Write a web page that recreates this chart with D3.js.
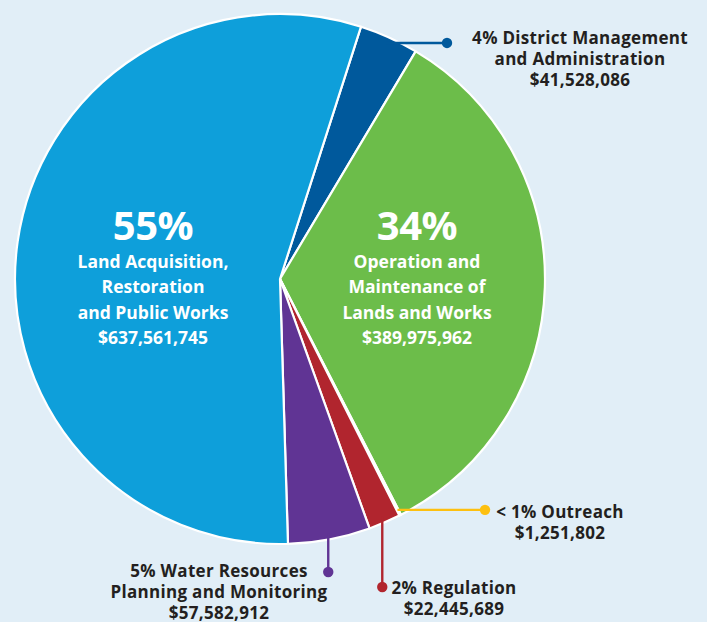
<!DOCTYPE html>
<html>
<head>
<meta charset="utf-8">
<script src="https://cdn.jsdelivr.net/npm/d3@7"></script>
<style>
  html, body { margin: 0; padding: 0; background: #E1EEF7; }
  svg { display: block; }
  text { font-family: "Open Sans", Lato, sans-serif; font-weight: 700; }
</style>
</head>
<body>
<svg id="chart" width="707" height="622"></svg>
<script>
// ---- data ----
const categories = [
  "District Management and Administration",
  "Operation and Maintenance of Lands and Works",
  "Outreach",
  "Regulation",
  "Water Resources Planning and Monitoring",
  "Land Acquisition, Restoration and Public Works"
];
const values = [41528086, 389975962, 1251802, 22445689, 57582912, 637561745];
const percentLabels = ["4%", "34%", "< 1%", "2%", "5%", "55%"];
const amountLabels = ["$41,528,086", "$389,975,962", "$1,251,802", "$22,445,689", "$57,582,912", "$637,561,745"];
const nameLines = [
  ["District Management", "and Administration"],
  ["Operation and", "Maintenance of", "Lands and Works"],
  ["Outreach"],
  ["Regulation"],
  ["Water Resources", "Planning and Monitoring"],
  ["Land Acquisition,", "Restoration", "and Public Works"]
];
const colors = ["#00599C", "#6CBD4A", "#FDC010", "#B1252E", "#603494", "#0E9FDA"];

// ---- layout ----
const W = 707, H = 622;
const cx = 280, cy = 279, R = 265;
const startDeg = 17.8;
const textDark = "#231F20";

const svg = d3.select("#chart");
svg.append("rect").attr("width", W).attr("height", H).attr("fill", "#E1EEF7");

const data = categories.map((c, i) => ({ name: c, value: values[i], i }));
const pie = d3.pie().sort(null).value(d => d.value)
  .startAngle(startDeg * Math.PI / 180)
  .endAngle(startDeg * Math.PI / 180 + 2 * Math.PI);
const arcs = pie(data);
const arc = d3.arc().innerRadius(0).outerRadius(R);

const g = svg.append("g").attr("transform", `translate(${cx},${cy})`);
g.selectAll("path.slice").data(arcs).join("path")
  .attr("class", "slice")
  .attr("d", arc)
  .attr("fill", d => colors[d.data.i])
  .attr("stroke", "#ffffff")
  .attr("stroke-width", 2.2)
  .attr("stroke-linejoin", "round");

function edgePoint(a, r) {
  const m = (a.startAngle + a.endAngle) / 2;
  return [cx + r * Math.sin(m), cy - r * Math.cos(m)];
}

// ---- inside labels ----
const inside = [
  { i: 5, x: 153, pctY: 240, y0: 268 },
  { i: 1, x: 417, pctY: 240, y0: 268 }
];
inside.forEach(L => {
  svg.append("text").attr("x", L.x).attr("y", L.pctY)
    .attr("text-anchor", "middle").attr("fill", "#fff")
    .attr("font-size", 40).attr("font-weight", 800).attr("letter-spacing", -0.5).text(percentLabels[L.i]);
  const lines = nameLines[L.i].concat([amountLabels[L.i]]);
  lines.forEach((t, k) => {
    svg.append("text").attr("x", L.x).attr("y", L.y0 + k * 25.3)
      .attr("text-anchor", "middle").attr("fill", "#fff")
      .attr("font-size", 17.5).text(t);
  });
});

// ---- outside callouts ----
const callouts = [
  { i: 0, dir: "h", end: 447, tx: 580, ty: 44, step: 21 },
  { i: 2, dir: "h", end: 485, tx: 560, ty: 518, step: 21 },
  { i: 3, dir: "v", end: 587, tx: 454, ty: 594, step: 21 },
  { i: 4, dir: "v", end: 572, tx: 219, ty: 577, step: 21.2 }
];
callouts.forEach(C => {
  const a = arcs[C.i];
  const [px, py] = edgePoint(a, R - 6);
  const col = colors[C.i];
  let ex, ey;
  if (C.dir === "h") { ex = C.end; ey = py; } else { ex = px; ey = C.end; }
  svg.append("line").attr("x1", px).attr("y1", py).attr("x2", ex).attr("y2", ey)
    .attr("stroke", col).attr("stroke-width", 2.4);
  svg.append("circle").attr("cx", ex).attr("cy", ey).attr("r", 5.2).attr("fill", col);
  const nl = nameLines[C.i];
  const lines = [percentLabels[C.i] + " " + nl[0]].concat(nl.slice(1)).concat([amountLabels[C.i]]);
  lines.forEach((t, k) => {
    svg.append("text").attr("x", C.tx).attr("y", C.ty + k * C.step)
      .attr("text-anchor", "middle").attr("fill", textDark)
      .attr("font-size", 17).attr("letter-spacing", 0.3).text(t);
  });
});
</script>
</body>
</html>
